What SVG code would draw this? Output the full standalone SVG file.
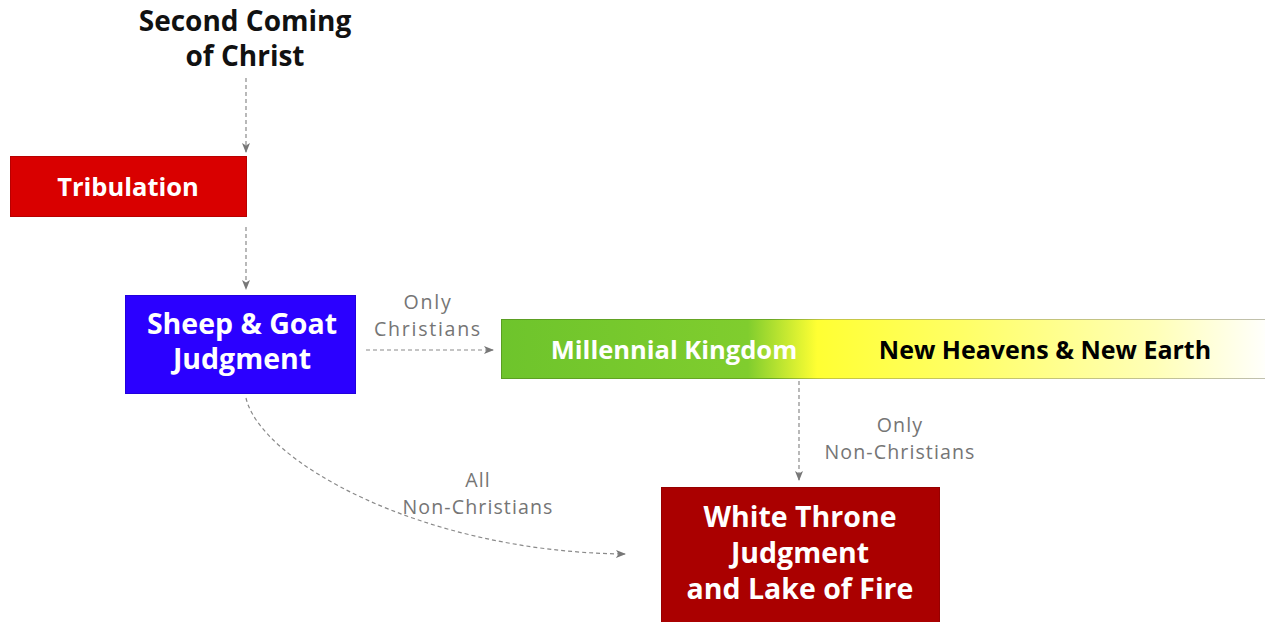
<svg xmlns="http://www.w3.org/2000/svg" width="1265" height="622" viewBox="0 0 1265 622">
<style>
.t{font-family:"Open Sans","Noto Sans","Liberation Sans",sans-serif;text-anchor:middle}
.w{fill:#fff;font-weight:700;font-size:28.5px}
.lbl{fill:#757575;font-size:19.6px;letter-spacing:1.1px}
.c{fill:none;stroke:#8a8a8a;stroke-width:1.2;stroke-dasharray:4 3}
</style>
<defs>
<marker id="ah" viewBox="0 0 10 10" refX="9" refY="5" markerWidth="10" markerHeight="10" markerUnits="userSpaceOnUse" orient="auto">
<path d="M0,1 L10,5 L0,9 L2.5,5 Z" fill="#777"/>
</marker>
<linearGradient id="bar" x1="0" y1="0" x2="1" y2="0">
<stop offset="0" stop-color="#6ec42c"/>
<stop offset="0.32" stop-color="#80cd2e"/>
<stop offset="0.41" stop-color="#ffff33"/>
<stop offset="0.6" stop-color="#ffff66"/>
<stop offset="0.85" stop-color="#ffffb8"/>
<stop offset="1" stop-color="#ffffff"/>
</linearGradient>
<linearGradient id="barS" x1="0" y1="0" x2="1" y2="0">
<stop offset="0" stop-color="#5a9e22"/>
<stop offset="0.35" stop-color="#6aa824"/>
<stop offset="0.42" stop-color="#c8c840"/>
<stop offset="1" stop-color="#c0c0b0"/>
</linearGradient>
</defs>
<g id="title">
<text class="t" font-size="28" font-weight="700" fill="#111"><tspan x="245" y="31">Second Coming</tspan><tspan x="245" y="66">of Christ</tspan></text>
</g>
<g id="connectors">
<path class="c" d="M246,78 L246,152" marker-end="url(#ah)"/>
<path class="c" d="M246,227 L246,289" marker-end="url(#ah)"/>
<path class="c" d="M366,350 L493,350" marker-end="url(#ah)"/>
<path class="c" d="M799,381 L799,480" marker-end="url(#ah)"/>
<path class="c" d="M246,398 C260,460 420,552 625,554" marker-end="url(#ah)"/>
<text class="t lbl" style="letter-spacing:1.7px"><tspan x="428" y="309">Only</tspan><tspan x="428" y="336">Christians</tspan></text>
<text class="t lbl"><tspan x="900" y="432">Only</tspan><tspan x="900" y="459">Non-Christians</tspan></text>
<text class="t lbl"><tspan x="478" y="487">All</tspan><tspan x="478" y="514">Non-Christians</tspan></text>
</g>
<g id="tribulation">
<rect x="10.5" y="156.5" width="236" height="60" fill="#d90000" stroke="#b80000"/>
<text class="t" x="128" y="196" font-size="25.5" font-weight="700" fill="#fff">Tribulation</text>
</g>
<g id="sheep-goat">
<rect x="125.5" y="295.5" width="230" height="98" fill="#2b00ff" stroke="#2200dd"/>
<text class="t w"><tspan x="242" y="334">Sheep &amp; Goat</tspan><tspan x="242" y="369">Judgment</tspan></text>
</g>
<g id="kingdom">
<rect x="501.5" y="319.5" width="770" height="59" fill="url(#bar)" stroke="url(#barS)"/>
<text class="t" x="674" y="359" font-size="25.5" font-weight="700" fill="#fff">Millennial Kingdom</text>
<text class="t" x="1045" y="359" font-size="25" font-weight="700" fill="#000">New Heavens &amp; New Earth</text>
</g>
<g id="white-throne">
<rect x="661.5" y="487.5" width="278" height="140" fill="#aa0000" stroke="#960000"/>
<text class="t w"><tspan x="800" y="527">White Throne</tspan><tspan x="800" y="563">Judgment</tspan><tspan x="800" y="599">and Lake of Fire</tspan></text>
</g>
</svg>
